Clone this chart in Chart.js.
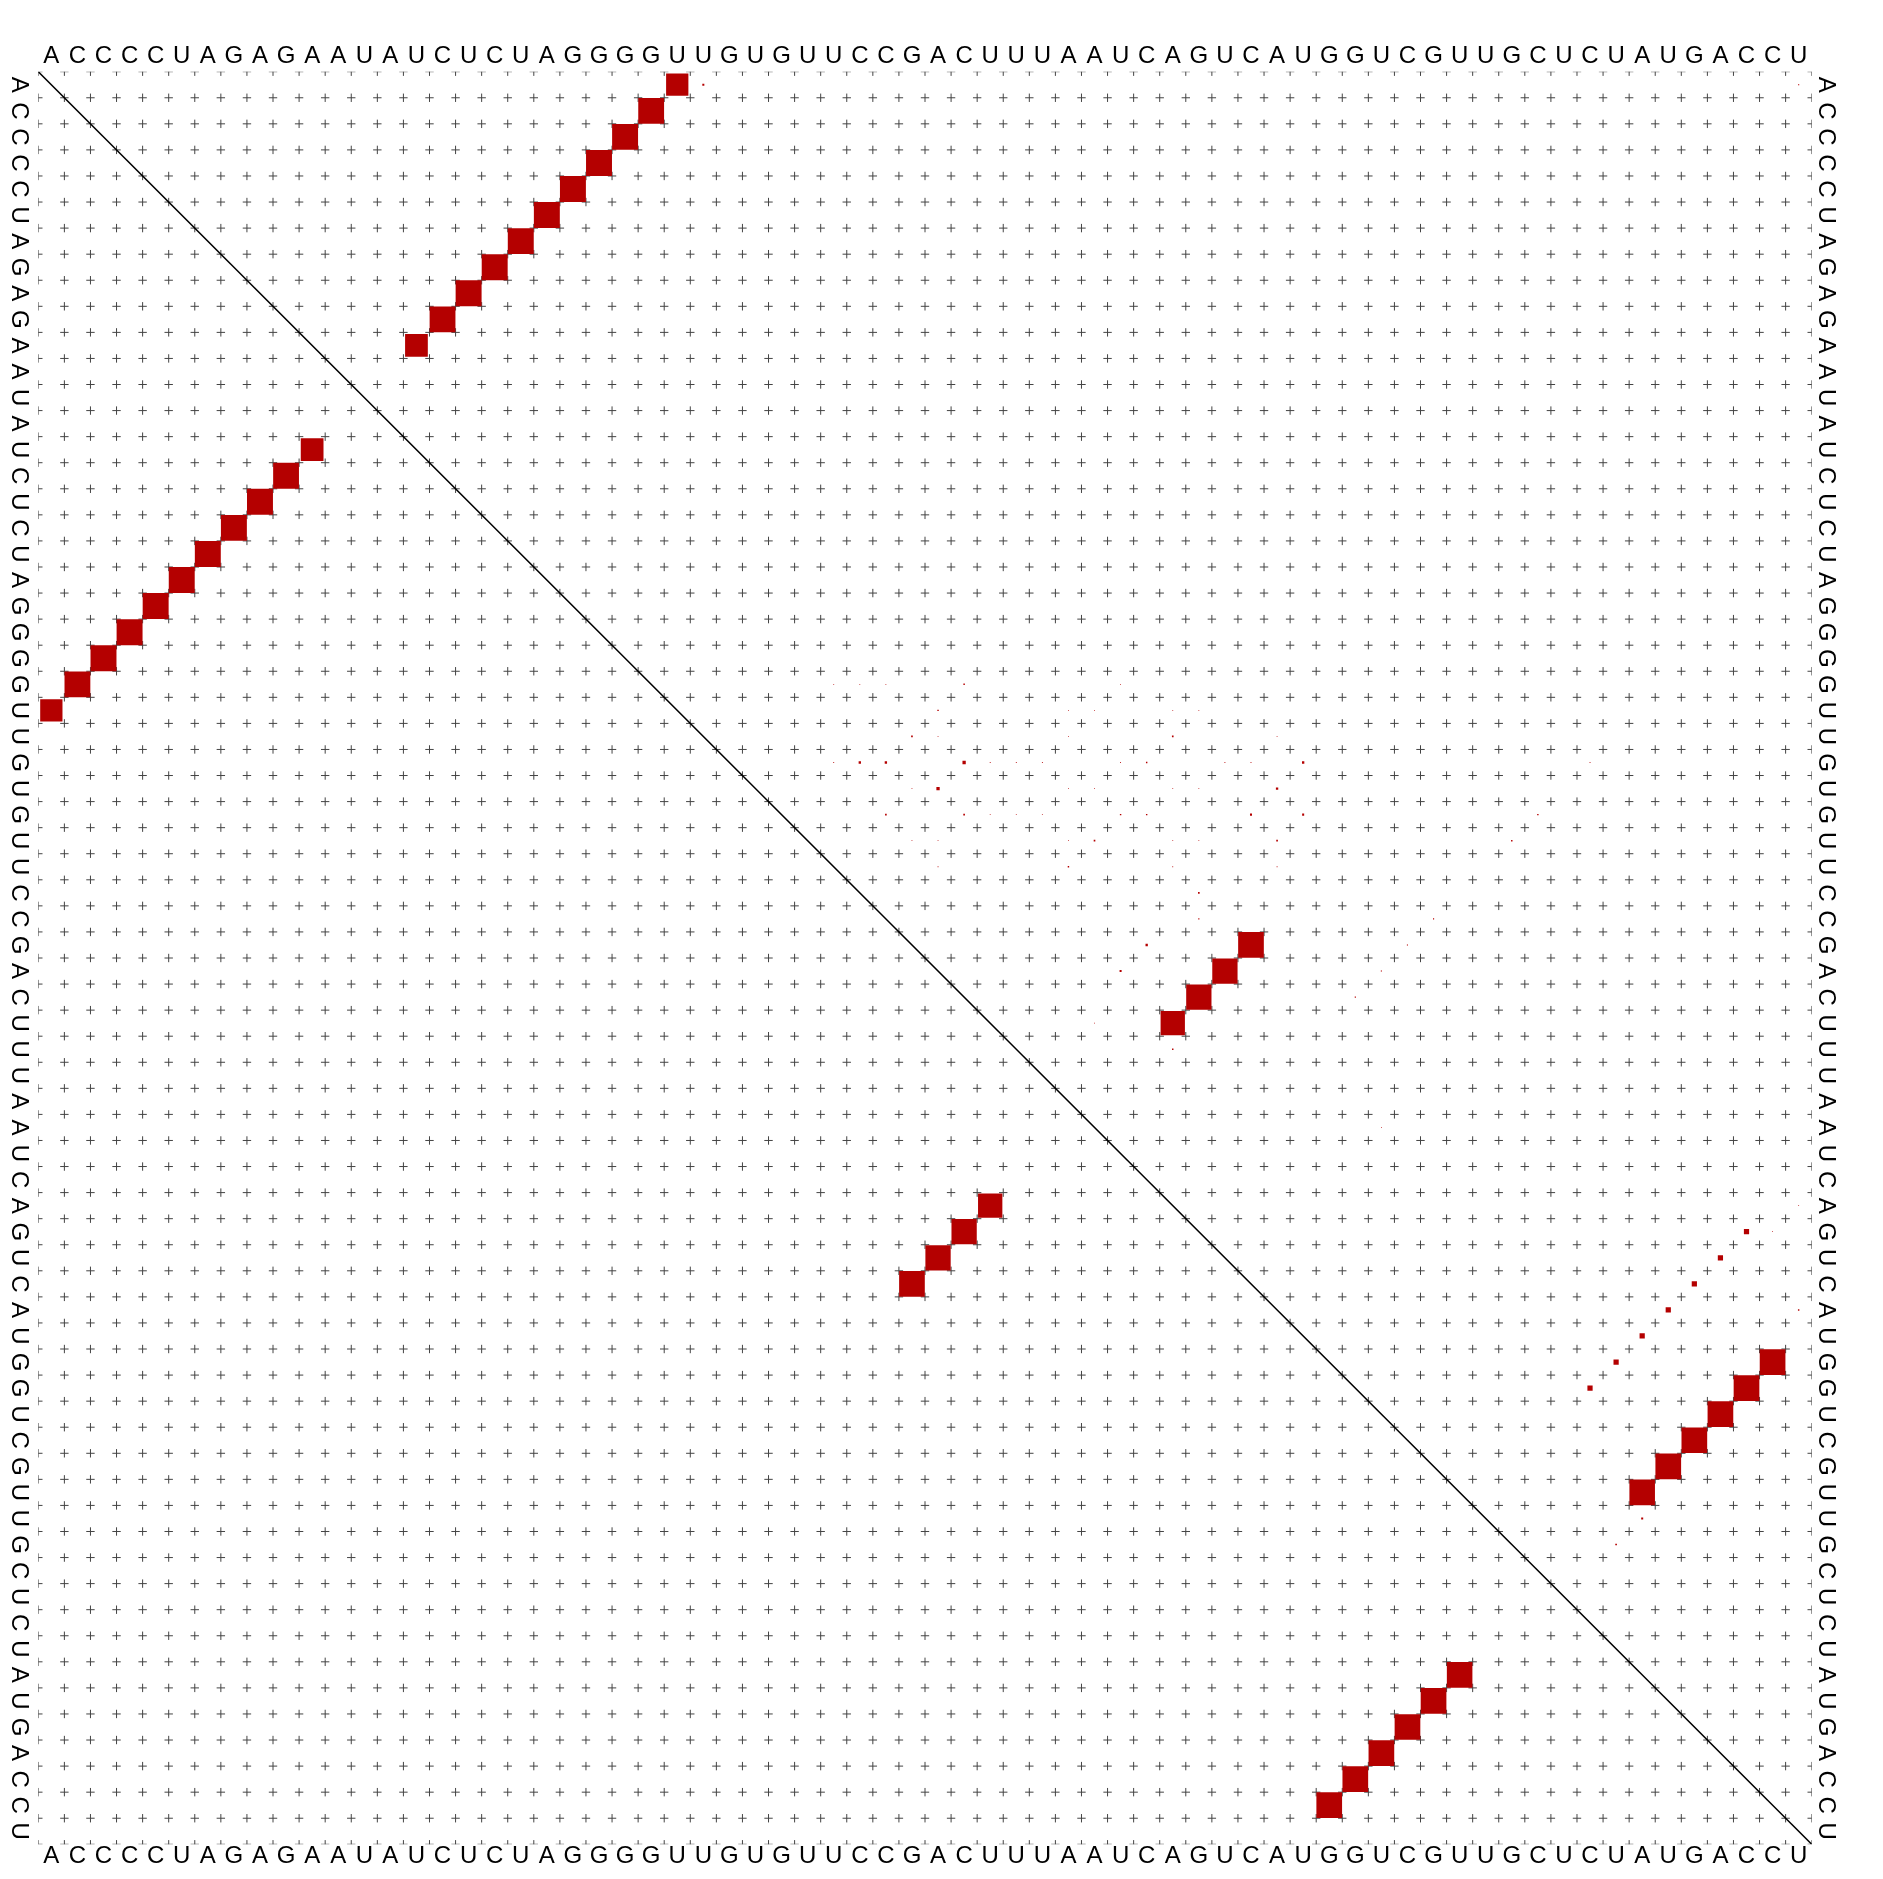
<!DOCTYPE html>
<html>
<head>
<meta charset="utf-8">
<title>Dot plot</title>
<script src="https://cdn.jsdelivr.net/npm/chart.js@4.4.1/dist/chart.umd.min.js"></script>
<style>
  html, body { margin: 0; padding: 0; background: #fff; }
  #wrap { width: 1883px; height: 1879px; }
</style>
</head>
<body>
<div id="wrap"><canvas id="dotPlot"></canvas></div>
<script>
// sequence shown along all four sides
const sequence = 'ACCCCUAGAGAAUAUCUCUAGGGGUUGUGUUCCGACUUUAAUCAGUCAUGGUCGUUGCUCUAUGACCU';

// mfe structure, drawn in the lower triangle: [i, j, p]
const mfePairs = [
  [1, 25, 0.73], [2, 24, 0.98], [3, 23, 0.99], [4, 22, 0.99], [5, 21, 0.99], [6, 20, 0.99],
  [7, 19, 0.99], [8, 18, 0.99], [9, 17, 0.99], [10, 16, 0.98], [11, 15, 0.76],
  [34, 47, 0.97], [35, 46, 0.94], [36, 45, 0.94], [37, 44, 0.87],
  [50, 67, 0.97], [51, 66, 0.97], [52, 65, 0.97], [53, 64, 0.97], [54, 63, 0.97], [55, 62, 0.96]
];

// alternative pairs with small probability, upper triangle only: [i, j, p]
const altPairs = [
  [45, 66, 0.04], [46, 65, 0.04], [47, 64, 0.04], [48, 63, 0.04], [49, 62, 0.04], [50, 61, 0.04], [51, 60, 0.04],
  [1, 26, 0.006], [1, 68, 0.002], [24, 36, 0.003], [25, 35, 0.003], [26, 34, 0.004], [27, 32, 0.008],
  [27, 33, 0.008], [27, 36, 0.016], [28, 35, 0.016], [29, 33, 0.004], [29, 36, 0.004], [26, 44, 0.004],
  [27, 43, 0.003], [27, 49, 0.008], [28, 48, 0.008], [29, 42, 0.003], [29, 43, 0.003], [29, 47, 0.006],
  [29, 49, 0.006], [30, 41, 0.004], [30, 48, 0.004], [31, 40, 0.003], [32, 45, 0.004], [33, 45, 0.002],
  [34, 43, 0.008], [35, 42, 0.006], [38, 44, 0.003], [29, 58, 0.003], [30, 57, 0.003], [33, 54, 0.002],
  [34, 53, 0.002], [35, 52, 0.002], [36, 51, 0.002], [48, 68, 0.003], [56, 62, 0.006], [57, 61, 0.004],
  [24, 31, 0.001], [24, 32, 0.001], [24, 33, 0.001], [24, 42, 0.001], [25, 40, 0.001], [25, 41, 0.001],
  [25, 44, 0.001], [25, 45, 0.001], [26, 35, 0.001], [26, 40, 0.001], [26, 48, 0.001], [27, 31, 0.001],
  [27, 37, 0.001], [27, 38, 0.001], [27, 39, 0.001], [27, 42, 0.001], [27, 46, 0.001], [27, 47, 0.001],
  [28, 34, 0.001], [28, 40, 0.001], [28, 41, 0.001], [28, 44, 0.001], [28, 45, 0.001], [29, 37, 0.001],
  [29, 38, 0.001], [29, 39, 0.001], [30, 34, 0.001], [30, 35, 0.001], [30, 40, 0.001], [30, 44, 0.001],
  [30, 45, 0.001], [31, 35, 0.001], [31, 44, 0.001], [31, 48, 0.001], [37, 41, 0.001], [27, 60, 0.001],
  [41, 52, 0.001], [44, 68, 0.001], [45, 67, 0.001]
];

const N = sequence.length;
const boxRed = '#b40000';
const labelFont = { family: "'Liberation Sans', Arial, Helvetica, sans-serif", size: 24, lineHeight: 1 };

// upper triangle: row i, column j ; lower triangle mirrored
const upperData = mfePairs.concat(altPairs).map(([i, j, p]) => ({ x: j, y: i, p: p }));
const lowerData = mfePairs.map(([i, j, p]) => ({ x: i, y: j, p: p }));

// grey crosses on every cell corner
const gridData = [];
for (let a = 0; a <= N; a++) {
  for (let b = 0; b <= N; b++) {
    gridData.push({ x: a + 0.5, y: b + 0.5 });
  }
}

function boxRadius(ctx) {
  if (!ctx.raw || !ctx.chart.chartArea) return 0;
  const cell = ctx.chart.chartArea.width / N;
  return Math.sqrt(ctx.raw.p) * cell / Math.SQRT2;
}

function seqTicks(axis) {
  axis.ticks = sequence.split('').map((c, k) => ({ value: k + 1 }));
}

function makeAxis(position, size, extra) {
  const horizontal = position === 'top' || position === 'bottom';
  const axis = {
    type: 'linear',
    position: position,
    min: 0.5,
    max: N + 0.5,
    reverse: !horizontal,
    grid: { display: false, drawTicks: false },
    border: { display: false },
    afterBuildTicks: seqTicks,
    afterFit: function(s) {
      if (horizontal) s.height = size; else s.width = size;
    },
    ticks: Object.assign({
      autoSkip: false,
      color: '#000',
      font: labelFont,
      callback: v => sequence[v - 1]
    }, extra)
  };
  return axis;
}

new Chart(document.getElementById('dotPlot'), {
  type: 'scatter',
  data: {
    datasets: [
      {
        label: 'diagonal',
        data: [{ x: 0.5, y: 0.5 }, { x: N + 0.5, y: N + 0.5 }],
        showLine: true,
        borderColor: '#000',
        borderWidth: 1.6,
        pointRadius: 0,
        order: 1
      },
      {
        label: 'pair probabilities',
        data: upperData,
        pointStyle: 'rect',
        backgroundColor: boxRed,
        pointBorderWidth: 0,
        pointRadius: boxRadius,
        order: 2
      },
      {
        label: 'mfe',
        data: lowerData,
        pointStyle: 'rect',
        backgroundColor: boxRed,
        pointBorderWidth: 0,
        pointRadius: boxRadius,
        order: 2
      },
      {
        label: 'grid',
        data: gridData,
        pointStyle: 'cross',
        pointRadius: 4.2,
        borderColor: '#444',
        pointBorderColor: '#444',
        pointBorderWidth: 1,
        clip: 0,
        order: 3
      }
    ]
  },
  options: {
    responsive: true,
    maintainAspectRatio: false,
    animation: false,
    events: [],
    layout: { padding: 0 },
    scales: {
      x: makeAxis('bottom', 34.7, { maxRotation: 0, minRotation: 0, padding: 0 }),
      xTop: makeAxis('top', 71.7, { maxRotation: 0, minRotation: 0, padding: 3 }),
      y: makeAxis('left', 38.3, { minRotation: -90, maxRotation: -90, crossAlign: 'center', padding: 10 }),
      yRight: makeAxis('right', 71.3, { minRotation: -90, maxRotation: -90, crossAlign: 'center', padding: 5 })
    },
    plugins: {
      legend: { display: false },
      tooltip: { enabled: false }
    }
  }
});
</script>
</body>
</html>
